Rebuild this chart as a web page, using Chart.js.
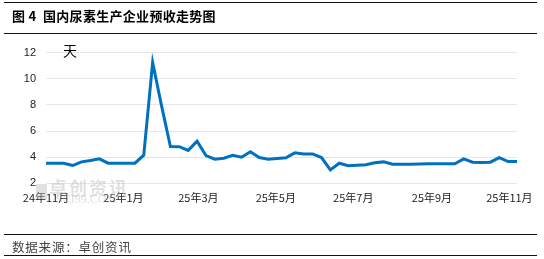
<!DOCTYPE html>
<html>
<head>
<meta charset="utf-8">
<script src="https://cdn.jsdelivr.net/npm/chart.js@4.4.1/dist/chart.umd.min.js"></script>
<style>
  html, body { margin: 0; padding: 0; background: #fff; }
  #wrap { position: relative; width: 544px; height: 259px; overflow: hidden; }
  #chart { position: absolute; left: 0; top: 0; }
  .rule { position: absolute; left: 4px; width: 533px; height: 0; border-top: 1px solid #111; }
  .title { position: absolute; left: 12px; top: 6px; font: bold 13px "Noto Sans CJK SC", sans-serif; color: #000; letter-spacing: 0.3px; }
  .source { position: absolute; left: 12px; top: 237px; font: 12.5px "Noto Sans CJK SC", sans-serif; color: #444; letter-spacing: 0.8px; }
</style>
</head>
<body>
<div id="wrap">
  <canvas id="chart" width="544" height="259"></canvas>
  <div class="rule" style="top:2px"></div>
  <div class="title">图 4&nbsp;&nbsp;国内尿素生产企业预收走势图</div>
  <div class="rule" style="top:33px"></div>
  <div class="rule" style="top:234px"></div>
  <div class="source">数据来源：卓创资讯</div>
  <div class="rule" style="top:255px"></div>
</div>
<script>
// weekly observations
const weeks = [
  '2024-11-01', '2024-11-08', '2024-11-15', '2024-11-22', '2024-11-29',
  '2024-12-06', '2024-12-13', '2024-12-20', '2024-12-27',
  '2025-01-03', '2025-01-10', '2025-01-17', '2025-01-24', '2025-01-31',
  '2025-02-07', '2025-02-14', '2025-02-21', '2025-02-28',
  '2025-03-07', '2025-03-14', '2025-03-21', '2025-03-28',
  '2025-04-04', '2025-04-11', '2025-04-18', '2025-04-25',
  '2025-05-02', '2025-05-09', '2025-05-16', '2025-05-23', '2025-05-30',
  '2025-06-06', '2025-06-13', '2025-06-20', '2025-06-27',
  '2025-07-04', '2025-07-11', '2025-07-18', '2025-07-25',
  '2025-08-01', '2025-08-08', '2025-08-15', '2025-08-22', '2025-08-29',
  '2025-09-05', '2025-09-12', '2025-09-19', '2025-09-26',
  '2025-10-03', '2025-10-10', '2025-10-17', '2025-10-24', '2025-10-31',
  '2025-11-07'
];
const presaleDays = [
  3.54, 3.54, 3.54, 3.36, 3.64, 3.75, 3.87, 3.54, 3.54,
  3.54, 3.54, 4.15, 11.25, 7.95,
  4.82, 4.8, 4.52, 5.22,
  4.12, 3.85, 3.92, 4.15,
  4.0, 4.42, 3.97, 3.85,
  3.9, 3.95, 4.33, 4.25, 4.25,
  3.97, 3.03, 3.54, 3.35,
  3.39, 3.42, 3.58, 3.64,
  3.46, 3.45, 3.45, 3.47, 3.49,
  3.5, 3.5, 3.5, 3.87,
  3.62, 3.6, 3.62, 3.97, 3.66,
  3.66
];
const tickDates = ['2024-11-01', '2025-01-01', '2025-03-01', '2025-05-01', '2025-07-01', '2025-09-01', '2025-11-01'];
const tickLabels = ['24年11月', '25年1月', '25年3月', '25年5月', '25年7月', '25年9月', '25年11月'];

const DAY = 24 * 3600 * 1000;
const start = Date.parse(weeks[0]);
const dayOf = d => Math.round((Date.parse(d) - start) / DAY);
const tickDays = tickDates.map(dayOf);

const points = weeks.map((w, i) => ({ x: dayOf(w), y: presaleDays[i] }));

const extras = {
  id: 'extras',
  beforeDatasetsDraw(chart) {
    const c = chart.ctx;
    c.save();
    // faint watermark
    c.fillStyle = 'rgba(180,180,180,0.4)';
    c.fillRect(36, 184, 11, 15);
    c.font = 'bold 18px "Noto Sans CJK SC"';
    c.textBaseline = 'top';
    ['卓', '创', '资', '讯'].forEach((ch, i) => c.fillText(ch, 49 + i * 20, 179));
    c.font = '12px "Liberation Serif"';
    c.fillText('SCI99.COM', 56, 194);
    c.restore();
  },
  afterDraw(chart) {
    const c = chart.ctx;
    c.save();
    c.fillStyle = '#000';
    c.font = '14px "Noto Sans CJK SC"';
    c.textAlign = 'center';
    c.textBaseline = 'middle';
    c.fillText('天', 70, 51);
    c.restore();
  }
};

new Chart(document.getElementById('chart'), {
  type: 'line',
  data: {
    datasets: [{
      data: points,
      borderColor: '#0070C0',
      borderWidth: 3,
      pointRadius: 0,
      tension: 0,
      fill: false
    }]
  },
  options: {
    responsive: false,
    animation: false,
    layout: { padding: { top: 52.7, right: 27, left: 0, bottom: 0 } },
    scales: {
      x: {
        type: 'linear',
        min: 0,
        max: dayOf(weeks[weeks.length - 1]),
        afterBuildTicks: scale => { scale.ticks = tickDays.map(v => ({ value: v })); },
        afterFit: scale => { scale.height = 75.7; },
        grid: { display: false, drawTicks: false },
        border: { display: false },
        ticks: {
          autoSkip: false,
          maxRotation: 0,
          padding: 8,
          color: '#222',
          font: { size: 11, family: 'Noto Sans CJK SC' },
          callback: v => tickLabels[tickDays.indexOf(v)]
        }
      },
      y: {
        min: 2,
        max: 12,
        afterFit: scale => { scale.width = 46; },
        grid: { color: '#e6e6e6', drawTicks: false, lineWidth: 1 },
        border: { display: false },
        ticks: {
          stepSize: 2,
          padding: 10,
          color: '#222',
          font: { size: 11, family: 'Liberation Sans' }
        }
      }
    },
    plugins: {
      legend: { display: false },
      tooltip: { enabled: false }
    }
  },
  plugins: [extras]
});
</script>
</body>
</html>
